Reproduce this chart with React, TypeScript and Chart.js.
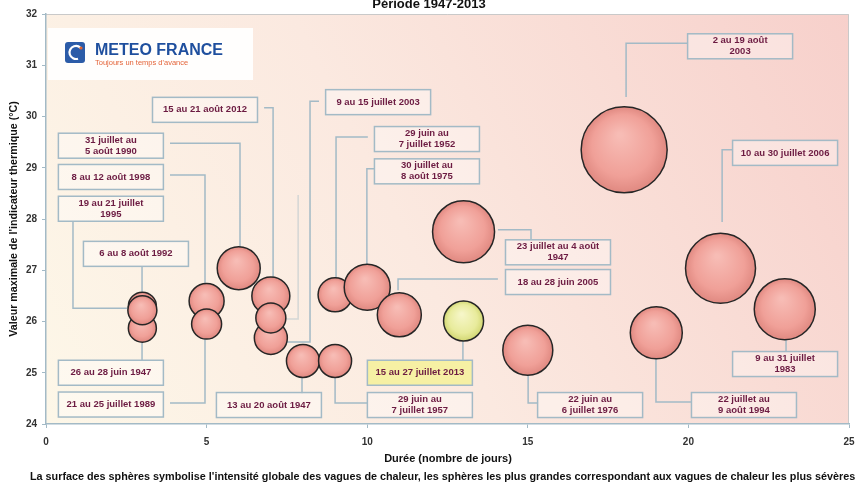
import React, { useEffect, useRef } from "react";
import { Chart, registerables } from "chart.js";

Chart.register(...registerables);

// ---------- data ----------
const waveNames = [
  "6 au 8 août 1992",
  "26 au 28 juin 1947",
  "19 au 21 juillet 1995",
  "8 au 12 août 1998",
  "21 au 25 juillet 1989",
  "31 juillet au 5 août 1990",
  "15 au 21 août 2012",
  "9 au 15 juillet 2003",
  "vague de 7 jours",
  "13 au 20 août 1947",
  "29 juin au 7 juillet 1957",
  "29 juin au 7 juillet 1952",
  "30 juillet au 8 août 1975",
  "18 au 28 juin 2005",
  "23 juillet au 4 août 1947",
  "15 au 27 juillet 2013",
  "22 juin au 6 juillet 1976",
  "2 au 19 août 2003",
  "22 juillet au 9 août 1994",
  "10 au 30 juillet 2006",
  "9 au 31 juillet 1983",
];
const durations = [3, 3, 3, 5, 5, 6, 7, 7, 7, 8, 9, 9, 10, 11, 13, 13, 15, 18, 19, 21, 23];
const maxIndicator = [
  26.3, 25.87, 26.22, 26.4, 25.95, 27.04, 26.5, 25.68, 26.07, 25.23, 25.23, 26.52, 26.67,
  26.13, 27.75, 26.01, 25.44, 29.35, 25.78, 27.04, 26.24,
];
// sphere radius (px) encoding the global intensity of each heat wave
const intensityRadius = [
  14, 14, 14.5, 17.5, 15, 21.5, 19, 16.5, 15, 16.5, 16.5, 17, 23, 22, 31, 20, 25, 43, 26, 35, 30.5,
];
const highlightedWave = "15 au 27 juillet 2013";

const xTickValues = [0, 5, 10, 15, 20, 25];
const yTickValues = [24, 25, 26, 27, 28, 29, 30, 31, 32];

// ---------- callouts (label boxes placed in axis units, with leader lines) ----------
const calloutText = [
  "15 au 21 août 2012",
  "31 juillet au\n5 août 1990",
  "8 au 12 août 1998",
  "19 au 21 juillet\n1995",
  "9 au 15 juillet 2003",
  "29 juin au\n7 juillet 1952",
  "30 juillet au\n8 août 1975",
  "2 au 19 août\n2003",
  "10 au 30 juillet 2006",
  "6 au 8 août 1992",
  "26 au 28 juin 1947",
  "21 au 25 juillet 1989",
  "13 au 20 août 1947",
  "15 au 27 juillet 2013",
  "29 juin au\n7 juillet 1957",
  "23 juillet au 4 août\n1947",
  "18 au 28 juin 2005",
  "22 juin au\n6 juillet 1976",
  "22 juillet au\n9 août 1994",
  "9 au 31 juillet\n1983",
];
const calloutX = [4.95, 2.02, 2.02, 2.02, 10.34, 11.86, 11.86, 21.61, 23.01, 2.8, 2.02, 2.02, 6.94, 11.64, 11.64, 15.94, 15.94, 16.94, 21.73, 23.01];
const calloutY = [30.13, 29.43, 28.82, 28.2, 30.28, 29.56, 28.93, 31.37, 29.29, 27.32, 25.0, 24.38, 24.37, 25.0, 24.37, 27.35, 26.77, 24.37, 24.37, 25.17];
const leaderPaths: number[][][] = [
  [[6.79, 30.17], [7.07, 30.17], [7.07, 26.87]],
  [[3.86, 29.48], [6.04, 29.48], [6.04, 27.45]],
  [[3.86, 28.86], [4.95, 28.86], [4.95, 26.73]],
  [[0.84, 27.96], [0.84, 26.26], [2.52, 26.26]],
  [[8.5, 30.3], [8.22, 30.3], [8.22, 25.6], [7.5, 25.6]],
  [[10.02, 29.6], [9.03, 29.6], [9.03, 26.85]],
  [[10.24, 28.98], [9.99, 28.98], [9.99, 27.12]],
  [[19.99, 31.43], [18.06, 31.43], [18.06, 30.38]],
  [[21.36, 29.35], [21.05, 29.35], [21.05, 27.94]],
  [[2.99, 27.08], [2.99, 26.58]],
  [[2.99, 25.25], [2.99, 25.58]],
  [[3.86, 24.41], [4.95, 24.41], [4.95, 25.66]],
  [[7.97, 24.6], [7.97, 24.9]],
  [[12.98, 25.25], [12.98, 25.62]],
  [[10.02, 24.41], [9.0, 24.41], [9.0, 24.92]],
  [[14.07, 27.79], [15.1, 27.79], [15.1, 27.61]],
  [[10.96, 26.61], [10.96, 26.83], [14.07, 26.83]],
  [[15.01, 24.94], [15.01, 24.41], [15.32, 24.41]],
  [[18.99, 25.27], [18.99, 24.43], [20.11, 24.43]],
  [[23.04, 25.64], [23.04, 25.42]],
];
const faintLeader: number[][] = [[7.47, 26.05], [7.85, 26.05], [7.85, 28.47]];

const chartTitle = "Période 1947-2013";
const yTitle = "Valeur maximale de l'indicateur thermique (°C)";
const xTitle = "Durée (nombre de jours)";
const caption =
  "La surface des sphères symbolise l'intensité globale des vagues de chaleur, les sphères les plus grandes correspondant aux vagues de chaleur les plus sévères";
const logoName = "METEO FRANCE";
const logoSlogan = "Toujours un temps d'avance";

const FONT = "'Liberation Sans', Arial, sans-serif";
const LINE = "#a3bac6";

export default function App() {
  const ref = useRef<HTMLCanvasElement>(null);

  useEffect(() => {
    document.body.style.margin = "0";
    const canvas = ref.current;
    if (!canvas) return;

    const bubbleFill = (c: any) => {
      const chart = c.chart;
      const i = c.dataIndex;
      const hl = i !== undefined && waveNames[i] === highlightedWave;
      const flat = hl ? "#e8eb9c" : "#f0a29b";
      const xs = chart.scales?.x;
      const ys = chart.scales?.y;
      if (i === undefined || !xs || !ys) return flat;
      const px = xs.getPixelForValue(durations[i]);
      const py = ys.getPixelForValue(maxIndicator[i]);
      const r = intensityRadius[i];
      if (!Number.isFinite(px) || !Number.isFinite(py) || !Number.isFinite(r)) return flat;
      const g = chart.ctx.createRadialGradient(px - r * 0.1, py - r * 0.35, r * 0.05, px, py, r);
      if (hl) {
        g.addColorStop(0, "#f6f6c8");
        g.addColorStop(0.7, "#e8eb9c");
        g.addColorStop(1, "#d2d772");
      } else {
        g.addColorStop(0, "#f7bcb5");
        g.addColorStop(0.7, "#f0a098");
        g.addColorStop(1, "#e08981");
      }
      return g;
    };

    const decor = {
      id: "decor",
      beforeDraw(chart: any) {
        const { ctx, chartArea: a } = chart;
        ctx.save();
        ctx.fillStyle = "#ffffff";
        ctx.fillRect(0, 0, chart.width, chart.height);
        const g = ctx.createLinearGradient(a.left, a.bottom, a.right, a.top);
        g.addColorStop(0, "#fdf7e8");
        g.addColorStop(0.45, "#fbe9e0");
        g.addColorStop(1, "#f7d0cb");
        ctx.fillStyle = g;
        ctx.fillRect(a.left, a.top, a.right - a.left, a.bottom - a.top);
        // frame
        ctx.strokeStyle = "#c9c9c9";
        ctx.lineWidth = 1;
        ctx.beginPath();
        ctx.moveTo(a.left, a.top + 0.5);
        ctx.lineTo(a.right - 0.5, a.top + 0.5);
        ctx.lineTo(a.right - 0.5, a.bottom);
        ctx.stroke();
        // logo
        const lx = a.left + 2;
        const ly = a.top + 14;
        ctx.fillStyle = "rgba(255,255,255,0.92)";
        ctx.fillRect(lx, ly, 205, 52);
        ctx.fillStyle = "#2c5ca8";
        ctx.beginPath();
        if (ctx.roundRect) ctx.roundRect(lx + 17, ly + 14, 20, 21, 3);
        else ctx.rect(lx + 17, ly + 14, 20, 21);
        ctx.fill();
        ctx.strokeStyle = "#ffffff";
        ctx.lineWidth = 2.2;
        ctx.beginPath();
        ctx.arc(lx + 28, ly + 24.5, 6.5, Math.PI * 0.4, Math.PI * 1.75);
        ctx.stroke();
        ctx.fillStyle = "#e8652f";
        ctx.beginPath();
        ctx.arc(lx + 33, ly + 20, 1.6, 0, Math.PI * 2);
        ctx.fill();
        ctx.fillStyle = "#1f4f9e";
        ctx.font = `bold 16px ${FONT}`;
        ctx.textBaseline = "alphabetic";
        ctx.textAlign = "left";
        ctx.fillText(logoName, lx + 47, ly + 27);
        ctx.fillStyle = "#e4643a";
        ctx.font = `7.5px ${FONT}`;
        ctx.fillText(logoSlogan, lx + 47, ly + 37);
        ctx.restore();
      },
      beforeDatasetsDraw(chart: any) {
        const { ctx } = chart;
        const xs = chart.scales.x;
        const ys = chart.scales.y;
        const X = (v: number) => xs.getPixelForValue(v);
        const Y = (v: number) => ys.getPixelForValue(v);
        ctx.save();
        ctx.lineWidth = 1.5;
        const drawPath = (p: number[][], color: string) => {
          ctx.strokeStyle = color;
          ctx.beginPath();
          p.forEach(([x, y], k) => (k ? ctx.lineTo(X(x), Y(y)) : ctx.moveTo(X(x), Y(y))));
          ctx.stroke();
        };
        drawPath(faintLeader, "rgba(163,186,198,0.45)");
        leaderPaths.forEach((p) => drawPath(p, LINE));
        const bw = 105;
        const bh = 25;
        calloutText.forEach((t, i) => {
          const cx = X(calloutX[i]);
          const cy = Y(calloutY[i]);
          const hl = t === highlightedWave;
          ctx.fillStyle = hl ? "#f6f0a4" : "rgba(255,255,255,0.35)";
          ctx.fillRect(cx - bw / 2, cy - bh / 2, bw, bh);
          ctx.strokeStyle = LINE;
          ctx.lineWidth = 1.5;
          ctx.strokeRect(cx - bw / 2, cy - bh / 2, bw, bh);
          ctx.fillStyle = "#6c1b42";
          ctx.font = `bold 9.5px ${FONT}`;
          ctx.textAlign = "center";
          ctx.textBaseline = "middle";
          const lines = t.split("\n");
          lines.forEach((ln, k) => {
            const off = (k - (lines.length - 1) / 2) * 11;
            ctx.fillText(ln, cx, cy + off);
          });
        });
        ctx.restore();
      },
      afterDraw(chart: any) {
        const { ctx, chartArea: a } = chart;
        ctx.save();
        ctx.fillStyle = "#111111";
        ctx.textAlign = "center";
        ctx.font = `bold 13px ${FONT}`;
        ctx.textBaseline = "alphabetic";
        ctx.fillText(chartTitle, 429, 8);
        ctx.font = `bold 11px ${FONT}`;
        ctx.textBaseline = "middle";
        ctx.fillText(xTitle, 448, 459);
        ctx.textAlign = "left";
        ctx.font = `bold 10.8px ${FONT}`;
        ctx.fillText(caption, 30, 477);
        ctx.translate(14, (a.top + a.bottom) / 2);
        ctx.rotate(-Math.PI / 2);
        ctx.textAlign = "center";
        ctx.font = `bold 10.7px ${FONT}`;
        ctx.fillText(yTitle, 0, 0);
        ctx.restore();
      },
    };

    const chart = new Chart(canvas, {
      type: "bubble",
      data: {
        datasets: [
          {
            label: "Vagues de chaleur",
            data: durations.map((d, i) => ({ x: d, y: maxIndicator[i], r: intensityRadius[i] })),
            backgroundColor: bubbleFill,
            borderColor: "#262626",
            borderWidth: 1.5,
          },
        ],
      },
      options: {
        responsive: false,
        animation: false,
        devicePixelRatio: 1,
        layout: { autoPadding: false, padding: { top: 14, right: 7, left: 0, bottom: 0 } },
        plugins: {
          legend: { display: false },
          tooltip: { enabled: false },
          title: { display: false },
        },
        scales: {
          x: {
            type: "linear",
            min: 0,
            max: 25,
            afterFit: (s: any) => {
              s.height = 59;
              s.paddingLeft = 0;
              s.paddingRight = 0;
            },
            afterBuildTicks: (s: any) => {
              s.ticks = xTickValues.map((v) => ({ value: v }));
            },
            ticks: {
              padding: 8,
              maxRotation: 0,
              color: "#333333",
              font: { family: FONT, size: 10, weight: "bold" },
            },
            grid: { drawOnChartArea: false, drawTicks: true, tickLength: 4, color: LINE },
            border: { color: LINE, width: 1.5 },
          },
          y: {
            type: "linear",
            min: 24,
            max: 32,
            afterFit: (s: any) => {
              s.width = 46;
              s.paddingTop = 0;
              s.paddingBottom = 0;
            },
            afterBuildTicks: (s: any) => {
              s.ticks = yTickValues.map((v) => ({ value: v }));
            },
            ticks: {
              padding: 5,
              color: "#333333",
              font: { family: FONT, size: 10, weight: "bold" },
            },
            grid: { drawOnChartArea: false, drawTicks: true, tickLength: 4, color: LINE },
            border: { color: LINE, width: 1.5 },
          },
        },
      },
      plugins: [decor],
    });

    return () => chart.destroy();
  }, []);

  return (
    <div style={{ width: 856, height: 483 }}>
      <canvas ref={ref} width={856} height={483} style={{ display: "block" }} />
    </div>
  );
}
